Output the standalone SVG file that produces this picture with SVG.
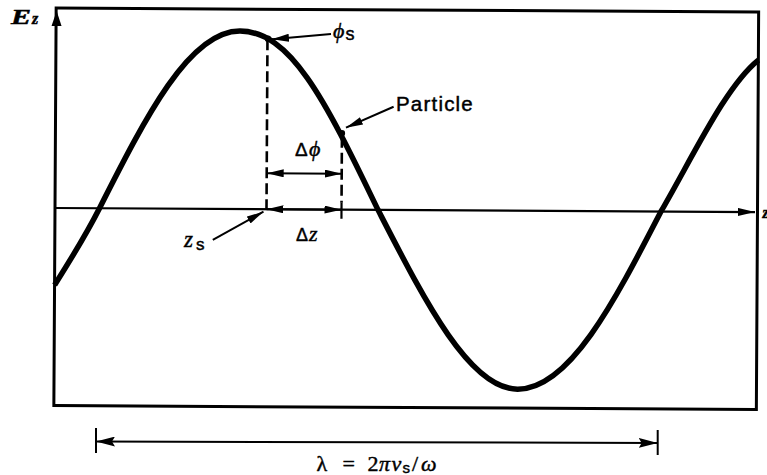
<svg xmlns="http://www.w3.org/2000/svg" width="767" height="475" viewBox="0 0 767 475">
<defs>
<marker id="ah" viewBox="0 0 17 8" refX="17" refY="4" markerWidth="17" markerHeight="8" markerUnits="userSpaceOnUse" orient="auto-start-reverse"><path d="M0,0 L17,4 L0,8 Z" fill="#000"/></marker>
<marker id="ahL" viewBox="0 0 19 10" refX="19" refY="5" markerWidth="19" markerHeight="10" markerUnits="userSpaceOnUse" orient="auto-start-reverse"><path d="M0,0 L19,5 L0,10 L3,5 Z" fill="#000"/></marker>
</defs>
<style>
.ln{stroke:#000;fill:none;stroke-linecap:butt}
.frame{stroke-width:3;stroke-linejoin:miter}
.axis{stroke-width:2.2}
.wave{stroke-width:5.5;stroke-linejoin:round}
.dash{stroke-width:2.6;stroke-dasharray:11 5}
.arr{stroke-width:2}
.serif{font-family:"Liberation Serif","DejaVu Serif",serif}
.sans{font-family:"Liberation Sans","DejaVu Sans",sans-serif}
.it{font-style:italic}
text{fill:#000;stroke:#000;stroke-width:0.45}
</style>
<rect width="767" height="475" fill="#fff"/>

<g id="plot" transform="rotate(0.33 55 208)">
  <g id="frame">
    <path class="ln frame" d="M55,8 H757.5 V405.5 H55 Z"/>
    <path d="M55.5,11 L50.5,26 L60.5,26 Z" fill="#000"/>
  </g>
  <g id="z-axis">
    <line class="ln axis" x1="55" y1="208" x2="755" y2="208" marker-end="url(#ah)"/>
  </g>
  <g id="wave">
    <path class="ln wave" d="M55,285 C69.8,261.3 84.7,237.7 99.5,208 C145,116.8 188.5,30 239,30 C289,30 323,95 378,208 C424,296 470,386.5 518.5,386.5 C570.1,386.5 614.5,299.3 661,208 C693.2,151.7 725.3,82 757.5,56"/>
  </g>
  <g id="synchronous-point">
    <line class="ln dash" x1="266.5" y1="38" x2="266.5" y2="208"/>
    <circle cx="267" cy="37.5" r="3.2" fill="#000"/>
  </g>
  <g id="particle-point">
    <line class="ln dash" x1="341.5" y1="135" x2="341.5" y2="201"/>
    <line class="ln axis" x1="341.5" y1="201" x2="341.5" y2="217"/>
    <circle cx="341.5" cy="131.5" r="3.2" fill="#000"/>
  </g>
</g>

<g id="connectors" transform="rotate(0.33 55 208)">
  <line class="ln arr" x1="266.5" y1="172" x2="341.5" y2="172" marker-start="url(#ah)" marker-end="url(#ah)"/>
  <line class="ln arr" x1="266.5" y1="208" x2="341.5" y2="208" marker-start="url(#ah)" marker-end="url(#ah)"/>
  <line class="ln arr" x1="330" y1="32.4" x2="271" y2="38" marker-end="url(#ah)"/>
  <line class="ln arr" x1="393" y1="104.8" x2="345.5" y2="126" marker-end="url(#ah)"/>
  <line class="ln arr" x1="213" y1="239" x2="263.5" y2="210.5" marker-end="url(#ah)"/>
</g>

<g id="wavelength">
  <line class="ln arr" x1="96" y1="441.5" x2="657.7" y2="443" marker-start="url(#ahL)" marker-end="url(#ahL)"/>
  <line class="ln arr" x1="96" y1="428" x2="96" y2="453" stroke-width="2.5"/>
  <line class="ln arr" x1="657.7" y1="430" x2="657.7" y2="455" stroke-width="2.5"/>
</g>

<g id="label-Ez">
  <text class="serif it" font-weight="bold" font-size="20" x="11" y="24" textLength="20" lengthAdjust="spacingAndGlyphs">E</text>
  <text class="serif it" font-weight="bold" font-size="16" x="32" y="24">z</text>
</g>
<g id="label-z-axis">
  <text class="serif it" font-weight="bold" font-size="16" x="762.5" y="218">z</text>
</g>
<g id="label-phis">
  <text class="serif it" font-size="22" x="333" y="38">ϕ</text>
  <text class="sans" font-size="18" x="345.5" y="40">s</text>
</g>
<g id="label-particle">
  <text class="sans" font-size="20.5" letter-spacing="1.2" x="396" y="111" stroke-width="0.3">Particle</text>
</g>
<g id="label-dphi">
  <text class="sans" font-size="19" x="295" y="156">Δ</text>
  <text class="serif it" font-size="22" x="309" y="156">ϕ</text>
</g>
<g id="label-dz">
  <text class="sans" font-size="18" x="296" y="240.5">Δ</text>
  <text class="serif it" font-size="22" x="309" y="240.5">z</text>
</g>
<g id="label-zs">
  <text class="serif it" font-size="23" x="184" y="246.5">z</text>
  <text class="sans" font-size="17" x="196" y="249.5">s</text>
</g>
<g id="label-lambda">
  <text class="serif" font-size="22" y="470.5"><tspan x="316.5">λ</tspan><tspan x="342.5">=</tspan><tspan x="367.5">2</tspan><tspan x="379" font-style="italic">π</tspan><tspan x="391.5" font-style="italic">v</tspan><tspan x="402.5" class="sans" font-size="15" dy="2">s</tspan><tspan x="412" dy="-2">/</tspan><tspan x="421" font-style="italic">ω</tspan></text>
</g>
</svg>
